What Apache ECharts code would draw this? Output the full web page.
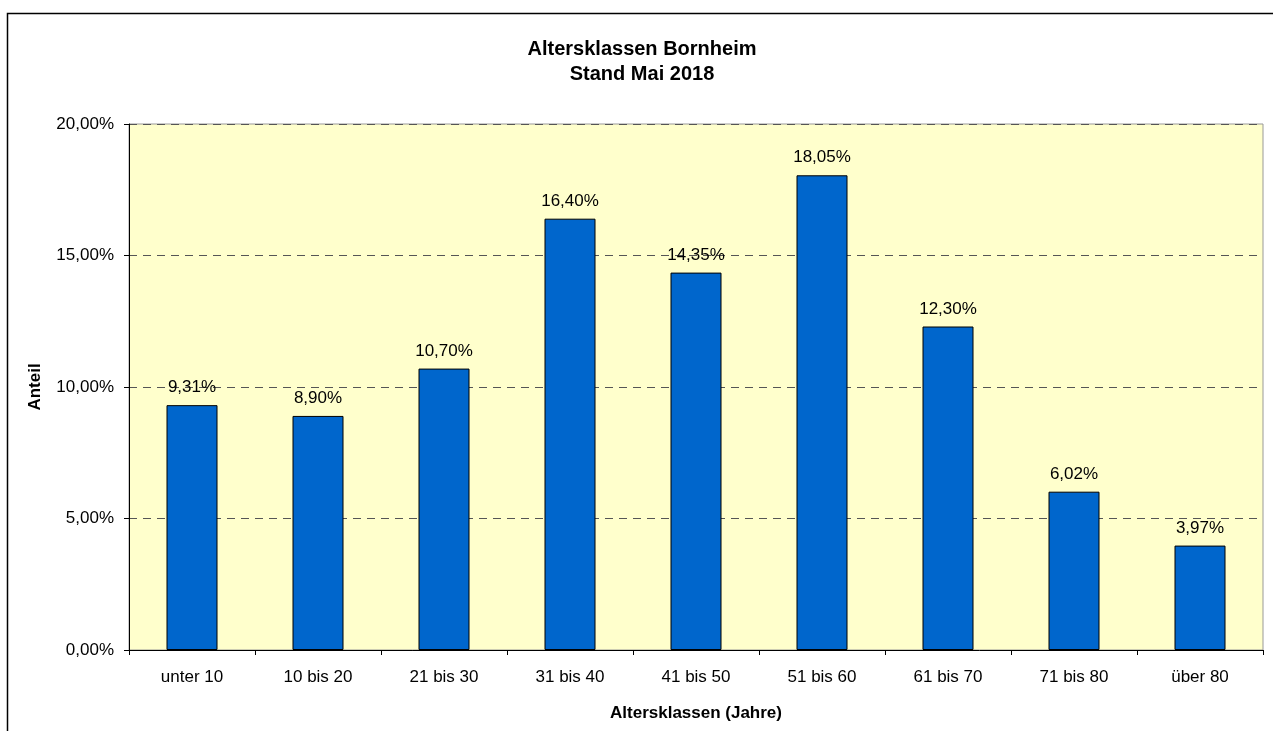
<!DOCTYPE html>
<html>
<head>
<meta charset="utf-8">
<script src="https://cdn.jsdelivr.net/npm/echarts@6/dist/echarts.min.js"></script>
<style>
html, body { margin: 0; padding: 0; background: #fff; }
#chart { width: 1273px; height: 731px; }
</style>
</head>
<body>
<div id="chart"></div>
<script>
const categories = ['unter 10', '10 bis 20', '21 bis 30', '31 bis 40', '41 bis 50', '51 bis 60', '61 bis 70', '71 bis 80', 'über 80'];
const shares = [9.31, 8.90, 10.70, 16.40, 14.35, 18.05, 12.30, 6.02, 3.97];
const yTicks = [0, 5, 10, 15, 20];

const fmt = v => v.toFixed(2).replace('.', ',') + '%';

const chart = echarts.init(document.getElementById('chart'));
chart.setOption({
    backgroundColor: '#fff',
    animation: false,
    textStyle: { fontFamily: 'Liberation Sans, Arial, sans-serif' },
    graphic: [{
        type: 'rect',
        left: 5, top: 11,
        shape: { width: 1400, height: 900 },
        style: { fill: 'none', stroke: '#000', lineWidth: 1.5 },
        silent: true,
        z: 100
    }],
    title: {
        text: 'Altersklassen Bornheim\nStand Mai 2018',
        left: 637, top: 32, textAlign: 'center',
        textStyle: { fontSize: 20, fontWeight: 'bold', color: '#000', lineHeight: 25 }
    },
    grid: {
        left: 129, top: 124, right: 10, bottom: 81,
        show: true, backgroundColor: '#FFFFCC', borderColor: '#999', borderWidth: 1
    },
    xAxis: {
        type: 'category',
        data: categories,
        name: 'Altersklassen (Jahre)',
        nameLocation: 'middle',
        nameGap: 55,
        nameTextStyle: { fontSize: 17, fontWeight: 'bold', color: '#000' },
        axisLine: { lineStyle: { color: '#000', width: 1 } },
        axisTick: { show: true, length: 5, lineStyle: { color: '#000' } },
        axisLabel: { fontSize: 17, color: '#000', margin: 19 }
    },
    yAxis: {
        type: 'value',
        min: yTicks[0], max: yTicks[yTicks.length - 1], interval: 5,
        name: 'Anteil',
        nameLocation: 'middle',
        nameGap: 85,
        nameTextStyle: { fontSize: 17, fontWeight: 'bold', color: '#000' },
        axisLine: { show: true, lineStyle: { color: '#000', width: 1 } },
        axisTick: { show: true, length: 5, lineStyle: { color: '#000' } },
        axisLabel: { fontSize: 17, color: '#000', margin: 15, formatter: v => fmt(v) },
        splitLine: { lineStyle: { color: '#555', type: [8, 6], width: 1 } }
    },
    series: [{
        type: 'bar',
        data: shares,
        barWidth: 51,
        itemStyle: { color: '#0066CC', borderColor: '#000', borderWidth: 1 },
        label: {
            show: true, position: 'top', distance: 9,
            fontSize: 17, color: '#000',
            formatter: p => fmt(p.value)
        }
    }]
});
</script>
</body>
</html>
